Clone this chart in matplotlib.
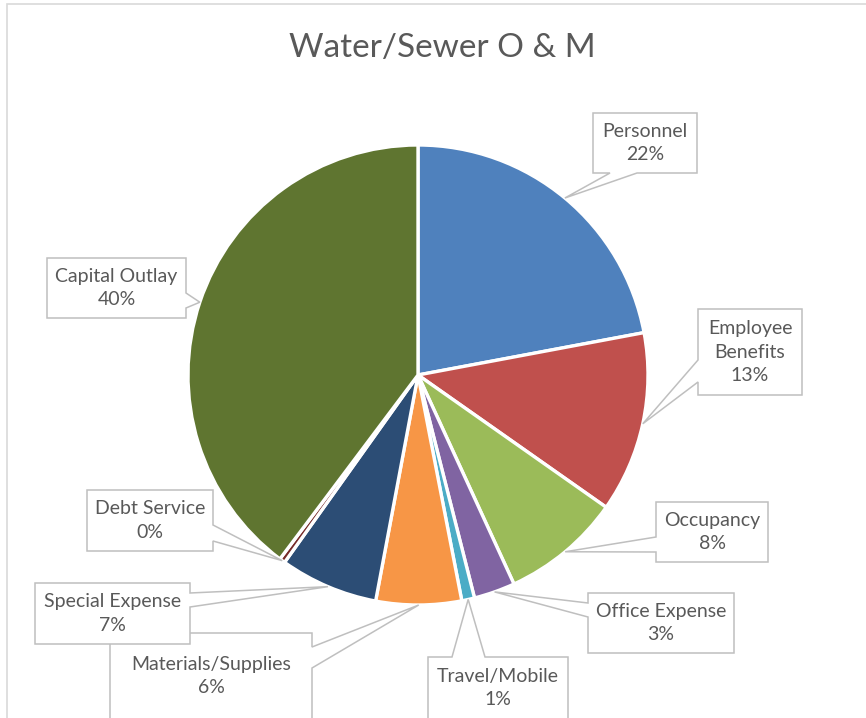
import matplotlib.pyplot as plt
from matplotlib.patches import Polygon, Rectangle
import numpy as np

# Slice order runs clockwise from 12 o'clock
categories = ['Personnel', 'Employee\nBenefits', 'Occupancy', 'Office Expense',
              'Travel/Mobile', 'Materials/Supplies', 'Special Expense',
              'Debt Service', 'Capital Outlay']
shares = [22.05, 12.7, 8.4, 2.9, 0.9, 6.0, 6.9, 0.4, 39.75]
colors = ['#4F81BD', '#C0504D', '#9BBB59', '#8064A2', '#4BACC6',
          '#F79646', '#2C4D75', '#772C2A', '#5F7530']

W, H = 866, 718
CX, CY, R = 418, 375, 230   # pie centre / radius in pixels (y measured downwards)
TEXT = '#595959'
EDGE = '#BFBFBF'
FONT = 'Lato'

# callout boxes (left, top, right, bottom), side carrying the pointer, pointer base span
callouts = [
    ((593, 113, 697, 173), 'bottom', (610, 637)),
    ((698, 309, 802, 395), 'left', (360, 382)),
    ((656, 502, 768, 562), 'left', (537, 552)),
    ((588, 593, 734, 653), 'left', (603, 617)),
    ((428, 657, 568, 722), 'top', (452, 485)),
    ((110, 633, 312, 722), 'right', (647, 668)),
    ((35, 583, 190, 644), 'right', (593, 607)),
    ((87, 490, 213, 551), 'right', (525, 541)),
    ((47, 258, 186, 318), 'right', (293, 308)),
]


def py(y):
    return H - y


def callout_poly(box, side, span, tip):
    l, t, r, b = box
    a, c = span
    if side == 'bottom':
        pts = [(l, t), (r, t), (r, b), (c, b), tip, (a, b), (l, b)]
    elif side == 'top':
        pts = [(l, t), (a, t), tip, (c, t), (r, t), (r, b), (l, b)]
    elif side == 'left':
        pts = [(l, t), (r, t), (r, b), (l, b), (l, c), tip, (l, a)]
    else:
        pts = [(l, t), (r, t), (r, a), tip, (r, c), (r, b), (l, b)]
    return [(x, py(y)) for x, y in pts]


fig = plt.figure(figsize=(8.66, 7.18), dpi=100)
ax = fig.add_axes([0, 0, 1, 1])

ax.pie(shares, colors=colors, center=(CX, py(CY)), radius=R,
       startangle=90, counterclock=False,
       wedgeprops=dict(edgecolor='white', linewidth=2.4))
ax.set_xlim(0, W)
ax.set_ylim(0, H)
ax.set_aspect('equal')
ax.axis('off')

# chart frame
ax.add_patch(Rectangle((7, py(900)), 1000, 896, fill=False,
                       edgecolor='#D9D9D9', linewidth=1.2, zorder=0))

ax.text(442, py(48), 'Water/Sewer O & M', ha='center', va='center',
        fontsize=24, color=TEXT, family=FONT)

cum = np.cumsum(shares)
mids = (cum - np.array(shares) / 2) / sum(shares) * 2 * np.pi
# Materials box (index 5) is drawn before Special Expense so it sits underneath
for i in range(len(categories)):
    box, side, span = callouts[i]
    tip = (CX + R * np.sin(mids[i]), CY - R * np.cos(mids[i]))
    poly = Polygon(callout_poly(box, side, span, tip), closed=True,
                   facecolor='white', edgecolor=EDGE, linewidth=1.1, zorder=3)
    ax.add_patch(poly)
    l, t, r, b = box
    b_vis = min(b, 719)
    label = '%s\n%d%%' % (categories[i], round(shares[i]))
    ax.text((l + r) / 2, py((t + b_vis) / 2), label, ha='center', va='center',
            fontsize=14, color=TEXT, family=FONT, linespacing=1.45, zorder=4)

fig.savefig('out.png', dpi=100)
